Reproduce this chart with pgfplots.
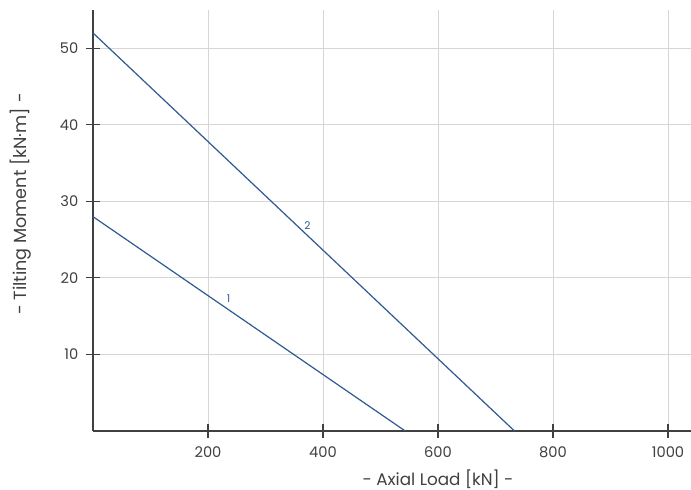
\documentclass[border=0pt]{standalone}
\usepackage{pgfplots}
\pgfplotsset{compat=1.18}
\usepackage{fontspec}
\setmainfont{Poppins}
\usetikzlibrary{calc}
\definecolor{linec}{RGB}{46,89,145}
\definecolor{txt}{RGB}{64,64,64}
\definecolor{gridc}{RGB}{214,214,214}
\begin{document}
\begin{tikzpicture}
\begin{axis}[
  name=ax,
  scale only axis,
  width=448.5pt, height=315.75pt,
  xmin=0, xmax=1040, ymin=0, ymax=55,
  axis lines=left,
  axis line style={-, draw=txt, line width=0.8pt},
  xtick={200,400,600,800,1000},
  ytick={10,20,30,40,50},
  tick align=center,
  major tick length=11pt,
  tick style={draw=txt, line width=0.8pt},
  grid=major,
  grid style={draw=gridc, line width=0.7pt},
  ticklabel style={font=\fontsize{11}{13}\selectfont, text=txt},
  /pgf/number format/assume math mode=true,
  /pgf/number format/1000 sep={},
  xticklabel style={yshift=-3pt},
  yticklabel style={xshift=-2pt},
  xlabel={- Axial Load [kN] -},
  ylabel={- Tilting Moment [kN·m] -},
  x label style={font=\fontsize{12.6}{14}\selectfont, text=txt, at={(rel axis cs:0.577,0)}, anchor=center, yshift=-36.5pt},
  y label style={font=\fontsize{13.2}{15}\selectfont, text=txt, at={(rel axis cs:0,0.539)}, anchor=center, yshift=54pt},
  clip=false,
]
\addplot[linec, line width=0.9pt] coordinates {(0,28) (543,0)};
\addplot[linec, line width=0.9pt] coordinates {(0,52) (733,0)};
\node[text=linec, font=\fontsize{8}{9}\selectfont] at (axis cs:236,17.3) {1};
\node[text=linec, font=\fontsize{8}{9}\selectfont] at (axis cs:373,26.8) {2};
\end{axis}
\pgfresetboundingbox
\path ($(ax.south west)+(-69.75pt,-44.25pt)$) rectangle ($(ax.north east)+(0pt,7.5pt)$);
\end{tikzpicture}
\end{document}
